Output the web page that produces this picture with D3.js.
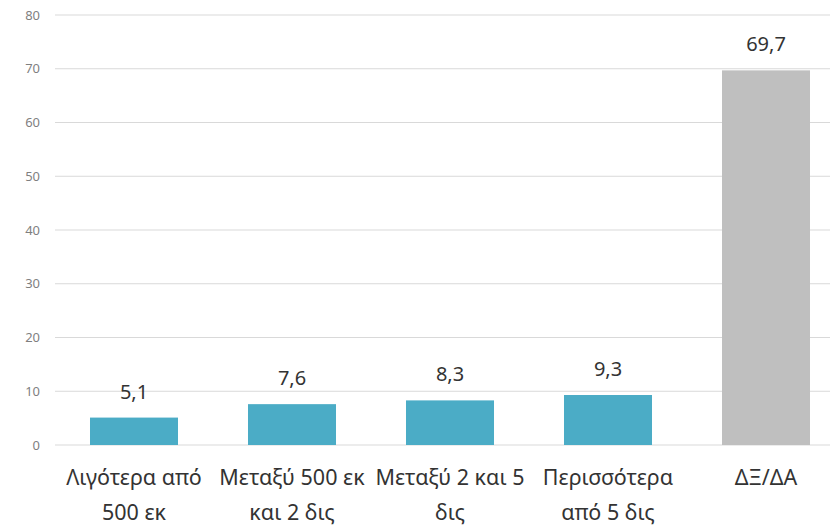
<!DOCTYPE html>
<html><head><meta charset="utf-8">
<script src="https://cdn.jsdelivr.net/npm/d3@7"></script>
<style>body{margin:0;background:#fff}svg{display:block}</style>
</head><body>
<svg id="c" width="830" height="527"></svg>
<script>
const categories = [["Λιγότερα από","500 εκ"],["Μεταξύ 500 εκ","και 2 δις"],["Μεταξύ 2 και 5","δις"],["Περισσότερα","από 5 δις"],["ΔΞ/ΔΑ"]];
const values = [5.1, 7.6, 8.3, 9.3, 69.7];
const valueLabels = ["5,1","7,6","8,3","9,3","69,7"];
const barColors = ["#4BACC6","#4BACC6","#4BACC6","#4BACC6","#BFBFBF"];
const yTicks = [0,10,20,30,40,50,60,70,80];

const svg = d3.select("#c");
const font = "'Noto Sans', 'Open Sans', sans-serif";
const y = d3.scaleLinear().domain([0,80]).range([445,15]);
const x = d3.scaleBand().domain(d3.range(categories.length)).range([55,845]).paddingInner(0.443).paddingOuter(0.2215);

const yAxis = d3.axisLeft(y).tickValues(yTicks).tickSize(0).tickPadding(0);
const gy = svg.append("g").attr("transform","translate(40,0)").call(yAxis);
gy.select(".domain").remove();
gy.selectAll("text").attr("font-family",font).attr("font-size",13).attr("fill","#7f7f7f");

svg.append("g").selectAll("line").data(yTicks).join("line")
  .attr("x1",55).attr("x2",830).attr("y1",d=>y(d)).attr("y2",d=>y(d))
  .attr("stroke","#d9d9d9").attr("stroke-width",1.2);

svg.append("g").selectAll("rect").data(values).join("rect")
  .attr("x",(d,i)=>x(i)).attr("width",x.bandwidth())
  .attr("y",d=>y(d)).attr("height",d=>y(0)-y(d))
  .attr("fill",(d,i)=>barColors[i]);

svg.append("g").selectAll("text").data(values).join("text")
  .attr("x",(d,i)=>x(i)+x.bandwidth()/2).attr("y",d=>y(d)-19)
  .attr("text-anchor","middle").attr("font-family",font).attr("font-size",20).attr("fill","#333")
  .text((d,i)=>valueLabels[i]);

const xg = svg.append("g");
categories.forEach((lines,i)=>{
  const cx = x(i)+x.bandwidth()/2;
  const t = xg.append("text").attr("x",cx).attr("y",485)
    .attr("text-anchor","middle").attr("font-family",font).attr("font-size",21.5).attr("fill","#333");
  lines.forEach((l,j)=>t.append("tspan").attr("x",cx).attr("dy",j?35:0).text(l));
});
</script>
</body></html>
